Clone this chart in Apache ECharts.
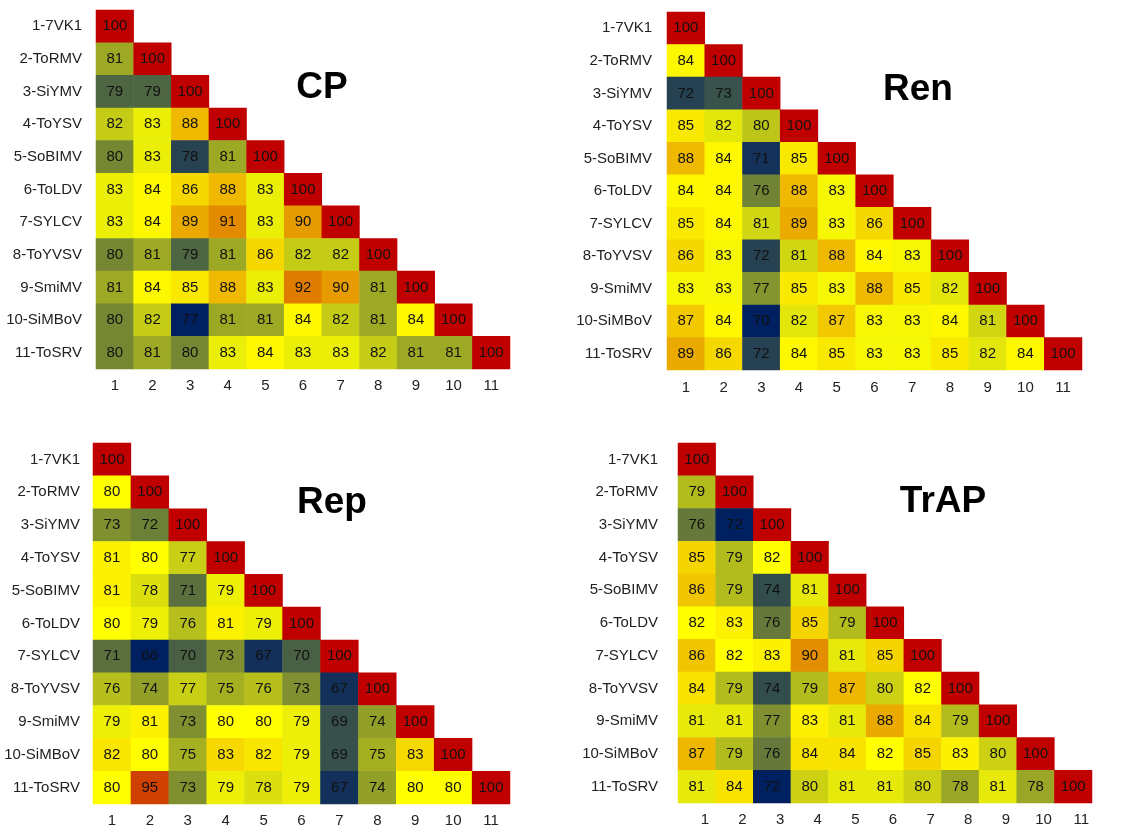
<!DOCTYPE html>
<html><head><meta charset="utf-8">
<script src="https://cdn.jsdelivr.net/npm/echarts@6/dist/echarts.min.js"></script>
<style>html,body{margin:0;background:#fff}#c{width:1144px;height:830px}</style>
</head><body><div id="c"></div>
<script>
const viruses = ['1-7VK1','2-ToRMV','3-SiYMV','4-ToYSV','5-SoBIMV','6-ToLDV','7-SYLCV','8-ToYVSV','9-SmiMV','10-SiMBoV','11-ToSRV'];
const colLabels = ['1','2','3','4','5','6','7','8','9','10','11'];
const panelTitles = ['CP','Ren','Rep','TrAP'];

const cpRows = [
 [100],
 [81,100],
 [79,79,100],
 [82,83,88,100],
 [80,83,78,81,100],
 [83,84,86,88,83,100],
 [83,84,89,91,83,90,100],
 [80,81,79,81,86,82,82,100],
 [81,84,85,88,83,92,90,81,100],
 [80,82,77,81,81,84,82,81,84,100],
 [80,81,80,83,84,83,83,82,81,81,100]
];
const renRows = [
 [100],
 [84,100],
 [72,73,100],
 [85,82,80,100],
 [88,84,71,85,100],
 [84,84,76,88,83,100],
 [85,84,81,89,83,86,100],
 [86,83,72,81,88,84,83,100],
 [83,83,77,85,83,88,85,82,100],
 [87,84,70,82,87,83,83,84,81,100],
 [89,86,72,84,85,83,83,85,82,84,100]
];
const repRows = [
 [100],
 [80,100],
 [73,72,100],
 [81,80,77,100],
 [81,78,71,79,100],
 [80,79,76,81,79,100],
 [71,66,70,73,67,70,100],
 [76,74,77,75,76,73,67,100],
 [79,81,73,80,80,79,69,74,100],
 [82,80,75,83,82,79,69,75,83,100],
 [80,95,73,79,78,79,67,74,80,80,100]
];
const trapRows = [
 [100],
 [79,100],
 [76,72,100],
 [85,79,82,100],
 [86,79,74,81,100],
 [82,83,76,85,79,100],
 [86,82,83,90,81,85,100],
 [84,79,74,79,87,80,82,100],
 [81,81,77,83,81,88,84,79,100],
 [87,79,76,84,84,82,85,83,80,100],
 [81,84,72,80,81,81,80,78,81,78,100]
];
const panels = [cpRows, renRows, repRows, trapRows];
// colour-scale midpoints (yellow) per panel
const midpoints = [83.5, 83.5, 80, 82];

const layout = [
 {left:96, top:10, width:414, height:359, ymargin:14, xmargin:9, xpad:0, tx:322, ty:88},
 {left:667, top:12, width:415, height:358, ymargin:15, xmargin:10, xpad:0, tx:918, ty:90},
 {left:93, top:443, width:417, height:361, ymargin:13, xmargin:9, xpad:0, tx:332, ty:503},
 {left:678, top:443, width:414, height:360, ymargin:20, xmargin:9, xpad:16, tx:943, ty:502}
];

const NAVY=[0,32,96], YEL=[255,255,0], RED=[192,0,0];
function scaleColor(v, lo, mid, hi){
  let a,b,t;
  if (v<=mid){a=NAVY;b=YEL;t=(v-lo)/(mid-lo);} else {a=YEL;b=RED;t=(v-mid)/(hi-mid);}
  t=Math.max(0,Math.min(1,t));
  const c=a.map((x,i)=>Math.round(x+(b[i]-x)*t));
  return 'rgb('+c.join(',')+')';
}

const FONT = "'Liberation Sans',Arial,sans-serif";
const grids=[],xAxes=[],yAxes=[],series=[],visualMaps=[],graphics=[];
panels.forEach((rows,p)=>{
  const L=layout[p];
  grids.push({left:L.left,top:L.top,width:L.width,height:L.height});
  xAxes.push({type:'category',gridIndex:p,data:colLabels,position:'bottom',
    axisLine:{show:false},axisTick:{show:false},splitLine:{show:false},
    axisLabel:{color:'#222',fontSize:15,fontFamily:FONT,margin:L.xmargin,padding:[0,0,0,L.xpad]}});
  yAxes.push({type:'category',gridIndex:p,data:viruses,inverse:true,
    axisLine:{show:false},axisTick:{show:false},splitLine:{show:false},
    axisLabel:{color:'#222',fontSize:15,fontFamily:FONT,margin:L.ymargin}});
  const data=[];
  let lo=100;
  rows.forEach((r,i)=>r.forEach((v,j)=>{data.push([j,i,v]); if(v<lo) lo=v;}));
  series.push({type:'heatmap',xAxisIndex:p,yAxisIndex:p,data:data,
    label:{show:true,color:'#111',fontSize:15,fontFamily:FONT},
    itemStyle:{borderWidth:0},emphasis:{disabled:true}});
  const stops=[];
  for(let v=lo; v<=100.0001; v+=0.25) stops.push(scaleColor(v,lo,midpoints[p],100));
  visualMaps.push({type:'continuous',show:false,seriesIndex:p,dimension:2,min:lo,max:100,inRange:{color:stops}});
  graphics.push({type:'text',x:L.tx,y:L.ty,style:{text:panelTitles[p],fill:'#000',
    font:"bold 37px 'Liberation Sans',Arial,sans-serif",textAlign:'center',textVerticalAlign:'middle'}});
});

const chart=echarts.init(document.getElementById('c'),null,{renderer:'canvas'});
chart.setOption({
  animation:false,
  backgroundColor:'#fff',
  grid:grids,xAxis:xAxes,yAxis:yAxes,visualMap:visualMaps,series:series,graphic:graphics
});
</script></body></html>
